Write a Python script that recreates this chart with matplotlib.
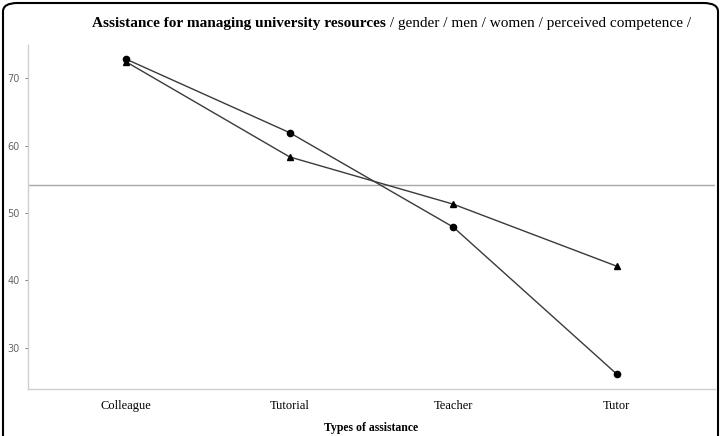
import matplotlib
matplotlib.use("Agg")
import matplotlib.pyplot as plt
from matplotlib.patches import FancyBboxPatch

categories = ["Colleague", "Tutorial", "Teacher", "Tutor"]
series_circle = [72.8, 61.9, 47.9, 26.1]
series_triangle = [72.4, 58.3, 51.3, 42.1]
ref_line = 54.1
yticks = [30, 40, 50, 60, 70]

fig = plt.figure(figsize=(7.21, 4.36), dpi=100)
W, H = 721, 436
ax = fig.add_axes([28 / W, (H - 389) / H, 687 / W, (389 - 45) / H])

x = list(range(len(categories)))
ax.plot(x, series_circle, color="#3a3a3a", lw=1.0, marker="o", ms=4.5,
        mfc="black", mec="black", zorder=3)
ax.plot(x, series_triangle, color="#3a3a3a", lw=1.0, marker="^", ms=5,
        mfc="black", mec="black", zorder=3)
ax.axhline(ref_line, color="#a8a8a8", lw=1.0, zorder=1)

ax.set_xlim(-0.6, 3.6)
ax.set_ylim(23.9, 74.9)
ax.set_xticks(x)
ax.set_xticklabels(categories, family="Liberation Serif", fontsize=9, color="black")
ax.set_yticks(yticks)
ax.tick_params(axis="y", labelsize=7, colors="#666666", length=2, width=0.6, pad=4)
ax.tick_params(axis="x", length=0, pad=8)
for s in ["top", "right"]:
    ax.spines[s].set_visible(False)
for s in ["left", "bottom"]:
    ax.spines[s].set_color("#cfcfcf")
    ax.spines[s].set_linewidth(1.0)

fig.text((28 + 687 / 2) / W, 1 - 428 / H, "Types of assistance",
         family="Liberation Serif", fontsize=8.5, fontweight="bold",
         ha="center", va="center")

# Title with mixed weights
fig.canvas.draw()
r = fig.canvas.get_renderer()
t1 = fig.text(92 / W, 1 - 24 / H, "Assistance for managing university resources",
              family="Liberation Serif", fontsize=11, fontweight="bold", va="center")
bb = t1.get_window_extent(renderer=r)
fig.text(bb.x1 / W, 1 - 24 / H, " / gender / men / women / perceived competence /",
         family="Liberation Serif", fontsize=11, va="center")

frame = FancyBboxPatch((3 / W, -0.1), (W - 6) / W, 1.1 - 3 / H,
                       boxstyle="round,pad=0,rounding_size=0.02",
                       transform=fig.transFigure, fill=False, ec="black", lw=1.5)
fig.patches.append(frame)

fig.savefig("out.png", dpi=100)
